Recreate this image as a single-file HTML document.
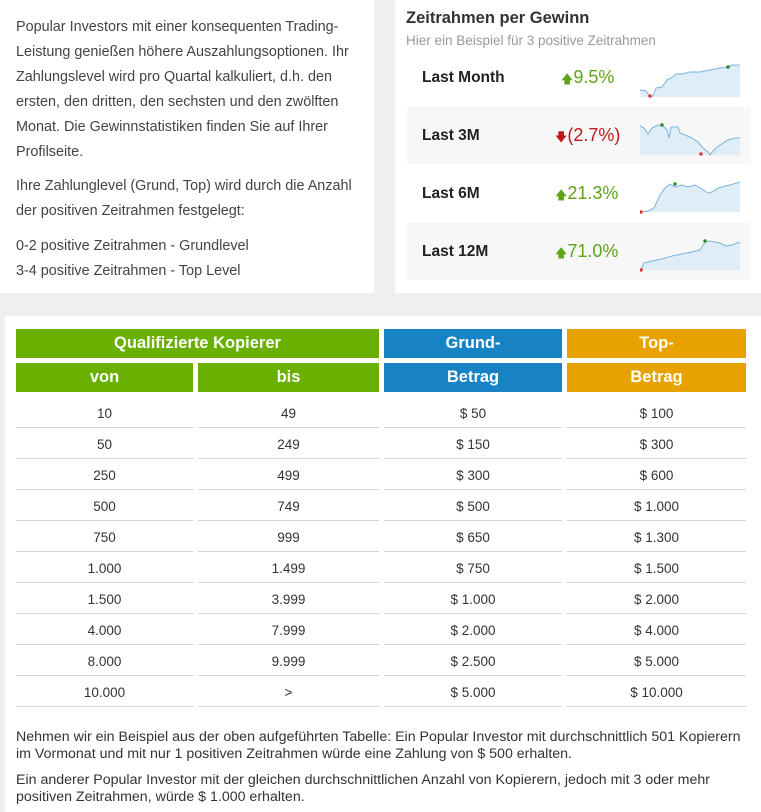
<!DOCTYPE html>
<html><head><meta charset="utf-8"><style>
body{margin:0;width:761px;height:812px;background:#efefef;font-family:"Liberation Sans",sans-serif;position:relative;overflow:hidden;color:#333}
.a{position:absolute;white-space:nowrap}
.lp{position:absolute;left:0;top:0;width:374px;height:293px;background:#fff}
.rp{position:absolute;left:395px;top:0;width:366px;height:293px;background:#fff}
.bp{position:absolute;left:5px;top:316px;width:756px;height:496px;background:#fff}
.lt{font-size:14.4px;color:#444}
.row{position:absolute;left:407px;width:344px;height:57px}
.lab{font-size:15.5px;font-weight:bold;color:#222}
.pct{font-size:18px;color:#5fa418}
.h{position:absolute;color:#fff;font-weight:bold;font-size:16.5px;text-align:center;line-height:29px;height:29px}
.g{background:#69b000}.b{background:#1783c4}.o{background:#e8a200}
.c{position:absolute;text-align:center;font-size:13.5px;color:#333;height:30px;line-height:33px;border-bottom:1px solid #d6d6d6}
.bt{font-size:14.2px;color:#333}
</style></head><body>
<div class="lp"></div><div class="rp"></div><div class="bp"></div>
<div class="a lt" style="left:16px;top:15px;line-height:25px">Popular Investors mit einer konsequenten Trading-<br>Leistung genießen höhere Auszahlungsoptionen. Ihr<br>Zahlungslevel wird pro Quartal kalkuliert, d.h. den<br>ersten, den dritten, den sechsten und den zwölften<br>Monat. Die Gewinnstatistiken finden Sie auf Ihrer<br>Profilseite.</div>
<div class="a lt" style="left:16px;top:174px;line-height:25px">Ihre Zahlunglevel (Grund, Top) wird durch die Anzahl<br>der positiven Zeitrahmen festgelegt:</div>
<div class="a lt" style="left:16px;top:234px;line-height:25px">0-2 positive Zeitrahmen - Grundlevel<br>3-4 positive Zeitrahmen - Top Level</div>

<div class="a" style="left:406px;top:9px;font-size:16.5px;font-weight:bold;color:#333">Zeitrahmen per Gewinn</div>
<div class="a" style="left:406px;top:33px;font-size:13.5px;color:#999">Hier ein Beispiel für 3 positive Zeitrahmen</div>

<div class="row" style="top:50px"></div>
<div class="row" style="top:107px;background:#f7f7f7"></div>
<div class="row" style="top:165px"></div>
<div class="row" style="top:223px;background:#f7f7f7"></div>

<div class="a lab" style="left:422px;top:69px">Last Month</div>
<div class="a lab" style="left:422px;top:127px">Last 3M</div>
<div class="a lab" style="left:422px;top:185px">Last 6M</div>
<div class="a lab" style="left:422px;top:243px">Last 12M</div>
<div class="a pct" style="left:561px;top:67px"><span style="font-size:12px">🡅</span>9.5%</div>
<div class="a pct" style="left:555px;top:125px;color:#c0161b"><span style="font-size:12px">🡇</span>(2.7%)</div>
<div class="a pct" style="left:555px;top:183px"><span style="font-size:12px">🡅</span>21.3%</div>
<div class="a pct" style="left:555px;top:241px"><span style="font-size:12px">🡅</span>71.0%</div>

<svg class="a" style="left:640px;top:60px" width="101" height="40"><path d="M0,30 L6,31 L10,37 L13,36 L16,28 L22,27 L27,20 L33,17 L36,14 L42,14 L50,12 L60,12 L70,10 L80,8 L88,7 L92,5 L100,5 L100,37 L0,37Z" fill="#deedf7" stroke="none"/><path d="M0,30 L6,31 L10,37 L13,36 L16,28 L22,27 L27,20 L33,17 L36,14 L42,14 L50,12 L60,12 L70,10 L80,8 L88,7 L92,5 L100,5" fill="none" stroke="#7ab4dc" stroke-width="1"/><circle cx="10" cy="36" r="1.7" fill="#e0323a"/><circle cx="88" cy="7" r="1.7" fill="#2a8a2a"/></svg>
<svg class="a" style="left:640px;top:120px" width="101" height="37"><path d="M0,6 L4,8 L8,14 L12,8 L18,5 L23,6 L27,10 L29,18 L31,7 L38,7 L40,13 L45,15 L52,18 L58,22 L63,28 L68,32 L70,35 L74,30 L80,25 L88,20 L95,18 L100,18 L100,35 L0,35Z" fill="#deedf7"/><path d="M0,6 L4,8 L8,14 L12,8 L18,5 L23,6 L27,10 L29,18 L31,7 L38,7 L40,13 L45,15 L52,18 L58,22 L63,28 L68,32 L70,35 L74,30 L80,25 L88,20 L95,18 L100,18" fill="none" stroke="#7ab4dc"/><circle cx="22" cy="5" r="1.7" fill="#2a8a2a"/><circle cx="61" cy="34" r="1.7" fill="#e0323a"/></svg>
<svg class="a" style="left:640px;top:180px" width="101" height="35"><path d="M1,32 L8,31 L14,28 L20,15 L25,8 L30,4 L35,7 L42,5 L48,7 L55,5 L62,9 L68,13 L72,12 L78,8 L85,6 L90,5 L100,2 L100,32 L0,32Z" fill="#deedf7"/><path d="M1,32 L8,31 L14,28 L20,15 L25,8 L30,4 L35,7 L42,5 L48,7 L55,5 L62,9 L68,13 L72,12 L78,8 L85,6 L90,5 L100,2" fill="none" stroke="#7ab4dc"/><circle cx="35" cy="4" r="1.7" fill="#2a8a2a"/><circle cx="1" cy="32" r="1.7" fill="#e0323a"/></svg>
<svg class="a" style="left:640px;top:237px" width="101" height="35"><path d="M1,33 L4,26 L12,24 L22,22 L32,19 L42,17 L52,15 L60,13 L65,5 L70,4 L80,6 L86,9 L92,8 L100,5 L100,33 L0,33Z" fill="#deedf7"/><path d="M1,33 L4,26 L12,24 L22,22 L32,19 L42,17 L52,15 L60,13 L65,5 L70,4 L80,6 L86,9 L92,8 L100,5" fill="none" stroke="#7ab4dc"/><circle cx="65" cy="4" r="1.7" fill="#2a8a2a"/><circle cx="1" cy="33" r="1.7" fill="#e0323a"/></svg>

<div class="h g" style="left:16px;top:329px;width:363px">Qualifizierte Kopierer</div>
<div class="h b" style="left:384px;top:329px;width:178px">Grund-</div>
<div class="h o" style="left:567px;top:329px;width:179px">Top-</div>
<div class="h g" style="left:16px;top:363px;width:177px">von</div>
<div class="h g" style="left:198px;top:363px;width:181px">bis</div>
<div class="h b" style="left:384px;top:363px;width:178px">Betrag</div>
<div class="h o" style="left:567px;top:363px;width:179px">Betrag</div>

<div id="t"></div>
<script>
var d=[["10","49","$ 50","$ 100"],["50","249","$ 150","$ 300"],["250","499","$ 300","$ 600"],["500","749","$ 500","$ 1.000"],["750","999","$ 650","$ 1.300"],["1.000","1.499","$ 750","$ 1.500"],["1.500","3.999","$ 1.000","$ 2.000"],["4.000","7.999","$ 2.000","$ 4.000"],["8.000","9.999","$ 2.500","$ 5.000"],["10.000",">","$ 5.000","$ 10.000"]];
var cols=[[16,177],[198,181],[384,178],[567,179]],h="";
d.forEach(function(r,i){r.forEach(function(v,j){h+='<div class="c" style="left:'+cols[j][0]+'px;top:'+(397+i*31)+'px;width:'+cols[j][1]+'px">'+v.replace('>','&gt;')+'</div>';});});
document.getElementById('t').innerHTML=h;
</script>

<div class="a bt" style="left:16px;top:729px;line-height:17px">Nehmen wir ein Beispiel aus der oben aufgeführten Tabelle: Ein Popular Investor mit durchschnittlich 501 Kopierern<br>im Vormonat und mit nur 1 positiven Zeitrahmen würde eine Zahlung von $ 500 erhalten.</div>
<div class="a bt" style="left:16px;top:772px;line-height:17px">Ein anderer Popular Investor mit der gleichen durchschnittlichen Anzahl von Kopierern, jedoch mit 3 oder mehr<br>positiven Zeitrahmen, würde $ 1.000 erhalten.</div>
</body></html>
